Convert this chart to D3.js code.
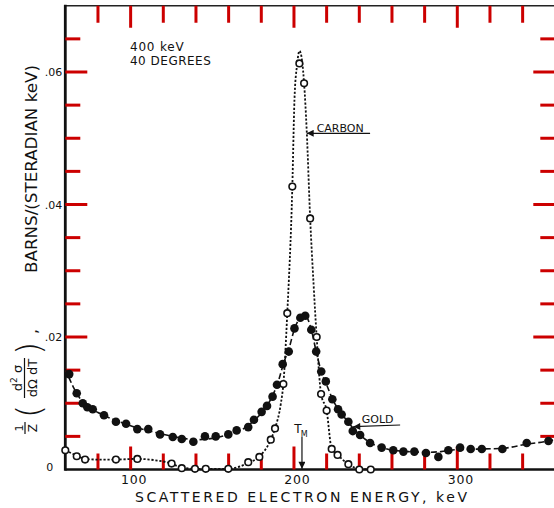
<!DOCTYPE html>
<html>
<head>
<meta charset="utf-8">
<script src="https://cdn.jsdelivr.net/npm/d3@7"></script>
<style>
    html, body { margin: 0; padding: 0; background: #fff; }
    svg text { font-family: "DejaVu Sans", sans-serif; fill: #111; }
    .axis text { font-size: 11px; }
    .axis .domain { display: none; }
</style>
</head>
<body>
<div id="container"></div>
<script>
// gold: filled points
var goldEnergy = [62.4, 67.0, 70.7, 73.5, 76.8, 83.7, 91.0, 97.2, 104.1, 110.8, 118.0, 125.8, 131.3, 138.4,
    145.5, 152.1, 159.8, 164.9, 172.0, 175.5, 180.2, 183.5, 186.9, 189.6, 193.1, 196.8, 200.3, 203.9,
    206.9, 210.6, 213.6, 216.7, 219.5, 223.5, 227.0, 229.2, 233.3, 236.0, 240.5, 246.6, 253.7, 260.8,
    267.0, 273.7, 280.8, 288.4, 294.5, 301.7, 308.2, 315.0, 327.6, 342.5, 355.8];
var goldValue = [.0144, .0115, .0100, .0094, .0091, .0082, .0072, .0069, .0061, .0061, .0053, .0049, .0046, .0042,
    .0050, .0050, .0053, .0059, .0064, .0075, .0087, .0096, .0110, .0128, .0159, .0178, .0213, .0229,
    .0232, .0211, .0178, .0148, .0133, .0106, .0091, .0083, .0072, .0058, .0052, .0040, .0033, .0029,
    .0027, .0027, .0025, .0019, .0029, .0033, .0031, .0031, .0031, .0040, .0043];

// carbon: open points
var carbonEnergy = [60.0, 67.0, 72.1, 91.0, 104.1, 125.1, 131.3, 139.4, 146.0, 159.8, 172.0, 178.8, 185.8, 188.4,
    193.5, 195.9, 199.0, 203.3, 206.2, 209.9, 213.9, 216.6, 220.0, 223.1, 226.7, 233.3, 240.0, 247.0];
var carbonValue = [.0029, .0020, .0015, .0015, .0016, .0009, .0002, .0001, .0001, .0001, .0011, .0019, .0045, .0062,
    .0129, .0236, .0427, .0613, .0583, .0379, .0200, .0114, .0089, .0031, .0022, .0008, .0000, .0000];

// hand drawn curves
var goldLineEnergy = [60, 65, 70, 75, 80, 90, 100, 110, 120, 130, 140, 150, 160, 170, 176, 181, 186, 190, 194, 197,
    200.3, 204, 207, 210.6, 213.6, 216.7, 220, 224, 228, 233, 237, 241, 247, 254, 261, 270, 280, 290, 300,
    315, 328, 342, 356, 360];
var goldLineValue = [.0152, .0124, .0104, .0093, .0086, .0075, .0066, .0059, .0053, .0048, .0045, .0047, .0053, .0063,
    .0075, .0088, .0107, .0130, .0163, .0183, .0212, .0229, .0232, .0211, .0178, .0148, .0128, .0104, .0088,
    .0072, .0060, .0051, .0040, .0033, .0029, .0027, .0026, .0027, .0030, .0031, .0032, .0038, .0043, .0045];

var carbonLineEnergy = [60, 67, 72, 80, 91, 104, 115, 125, 131, 140, 160, 172, 179, 185.8, 188.4, 192, 193.5, 195.9,
    199.0, 200.3, 201.9, 203.4, 205.0, 206.2, 207.8, 209.9, 212, 213.9, 216.6, 220, 223.1, 226.7, 233.3, 240, 247];
var carbonLineValue = [.0029, .0021, .0016, .0015, .0015, .0016, .0014, .0009, .0003, .0001, .0001, .0010, .0020,
    .0045, .0062, .0100, .0129, .0236, .0427, .0558, .0611, .0632, .0616, .0583, .0512, .0380, .0280, .0200,
    .0114, .0089, .0031, .0022, .0008, .0001, .0000];

var xLabelTicks = [100, 200, 300];
var xMinorTicks = [80, 120, 140, 160, 180, 220, 240, 260, 280, 320, 340];
var yLabelTicks = [0, 0.02, 0.04, 0.06];
var yMinorTicks = [0.005, 0.01, 0.015, 0.025, 0.03, 0.035, 0.045, 0.05, 0.055, 0.065];

var x, y, svg;

var yFmt = function (d) { return d === 0 ? "0" : d3.format(".2f")(d).replace(/^0/, ""); };

function init_vars() {
    x = d3.scaleLinear().domain([60, 360]).range([65.3, 555.3]);
    y = d3.scaleLinear().domain([0, 0.07]).range([469.5, 5.75]);
}

function draw_axes() {
    // left labels
    var gl = svg.append("g").attr("class", "axis")
        .attr("transform", "translate(" + x(60) + ",0)")
        .call(d3.axisLeft(y).tickValues(yLabelTicks).tickSize(0).tickPadding(3).tickFormat(yFmt));
    gl.selectAll(".tick text").filter(function (d) { return d === 0; })
        .attr("x", -12).attr("dy", "0.1em");

    // bottom labels
    svg.append("g").attr("class", "axis")
        .attr("transform", "translate(0," + y(0) + ")")
        .call(d3.axisBottom(x).tickValues(xLabelTicks).tickSize(0).tickPadding(6))
        .selectAll("text").attr("dx", 3).style("font-size", "12.5px").style("letter-spacing", "0.8px");

    // frame
    svg.append("line").attr("x1", x(60)).attr("x2", x(360)).attr("y1", y(0.07)).attr("y2", y(0.07))
        .attr("stroke", "#222").attr("stroke-width", 1.6);
    svg.append("line").attr("x1", x(360)).attr("x2", x(360)).attr("y1", y(0.07)).attr("y2", y(0))
        .attr("stroke", "#222").attr("stroke-width", 1.6);
    svg.append("line").attr("x1", x(60)).attr("x2", x(60)).attr("y1", y(0.07) - 1).attr("y2", y(0) + 1.2)
        .attr("stroke", "#111").attr("stroke-width", 2.8);
    svg.append("line").attr("x1", x(60)).attr("x2", x(360)).attr("y1", y(0)).attr("y2", y(0))
        .attr("stroke", "#111").attr("stroke-width", 2.4);
}

// inward tick marks on all four sides, one polyline each
function draw_ticks() {
    var specs = [
        { vals: yLabelTicks.slice(1), len: 22, side: "left" },
        { vals: yMinorTicks, len: 15, side: "left" },
        { vals: yLabelTicks.slice(1), len: 22, side: "right" },
        { vals: yMinorTicks, len: 15, side: "right" },
        { vals: xLabelTicks, len: 23, side: "bottom" },
        { vals: xMinorTicks, len: 16, side: "bottom" },
        { vals: xLabelTicks, len: 22, side: "top" },
        { vals: xMinorTicks, len: 17, side: "top" }
    ];
    var segs = [];
    specs.forEach(function (s) {
        s.vals.forEach(function (d) {
            if (s.side == "left") segs.push([[x(60), y(d)], [x(60) + s.len, y(d)]]);
            else if (s.side == "right") segs.push([[x(360) - s.len, y(d)], [x(360), y(d)]]);
            else if (s.side == "bottom") segs.push([[x(d), y(0) - s.len], [x(d), y(0)]]);
            else segs.push([[x(d), y(0.07)], [x(d), y(0.07) + s.len]]);
        });
    });
    svg.selectAll("path.tick-mark")
        .data(segs).enter()
        .append("path")
        .attr("class", "tick-mark")
        .attr("d", d3.line())
        .attr("fill", "none")
        .attr("stroke", "#cc0000")
        .attr("stroke-width", 3);
}

function draw_titles() {
    // x title
    svg.append("text")
        .attr("x", 135).attr("y", 502)
        .attr("textLength", 332).attr("lengthAdjust", "spacing")
        .style("font-size", "14px")
        .text("SCATTERED ELECTRON ENERGY, keV");

    // y title, rotated; u runs up the page, v to the right
    var yt = svg.append("g").attr("transform", "translate(37,437) rotate(-90)");
    yt.append("text").attr("x", 9).attr("y", -14.5).attr("text-anchor", "middle")
        .style("font-size", "11px").text("1");
    yt.append("line").attr("x1", 3).attr("x2", 15).attr("y1", -12).attr("y2", -12)
        .attr("stroke", "#111").attr("stroke-width", 1.2);
    yt.append("text").attr("x", 9).attr("y", 0).attr("text-anchor", "middle")
        .style("font-size", "12px").text("Z");
    yt.append("text").attr("x", 19).attr("y", 4).style("font-size", "34px").style("font-weight", "200").text("(");

    var num = yt.append("text").attr("x", 59).attr("y", -15.5).attr("text-anchor", "middle")
        .style("font-size", "13px");
    num.append("tspan").text("d");
    num.append("tspan").attr("dy", -5).style("font-size", "9px").text("2");
    num.append("tspan").attr("dy", 5).text(" σ");
    yt.append("line").attr("x1", 39).attr("x2", 79).attr("y1", -12.5).attr("y2", -12.5)
        .attr("stroke", "#111").attr("stroke-width", 1.2);
    yt.append("text").attr("x", 59).attr("y", 0).attr("text-anchor", "middle")
        .style("font-size", "13px").text("dΩ dT");
    yt.append("text").attr("x", 82).attr("y", 4).style("font-size", "34px").style("font-weight", "200").text(")");
    yt.append("text").attr("x", 103).attr("y", 0).style("font-size", "16px").text(",");
    yt.append("text").attr("x", 164).attr("y", 0)
        .attr("textLength", 208).attr("lengthAdjust", "spacingAndGlyphs")
        .style("font-size", "16px")
        .text("BARNS/(STERADIAN keV)");
}

function draw_notes() {
    svg.append("defs").append("marker")
        .attr("id", "head").attr("viewBox", "0 0 10 10")
        .attr("refX", 10).attr("refY", 5)
        .attr("markerWidth", 9).attr("markerHeight", 7)
        .attr("markerUnits", "userSpaceOnUse")
        .attr("orient", "auto")
        .append("path").attr("d", "M0,0L10,5L0,10z").attr("fill", "#111");

    svg.append("text").attr("x", x(99.6)).attr("y", y(0.0631))
        .style("font-size", "12px").style("letter-spacing", "0.8px").text("400 keV");
    svg.append("text").attr("x", x(99.6)).attr("y", y(0.0610))
        .style("font-size", "12px").style("letter-spacing", "0.5px").text("40 DEGREES");

    // carbon label
    svg.append("text").attr("x", x(213.9)).attr("y", y(0.0510))
        .style("font-size", "11px").text("CARBON");
    svg.append("line").attr("x1", x(246.6)).attr("y1", y(0.05075)).attr("x2", x(207.8)).attr("y2", y(0.05075))
        .attr("stroke", "#111").attr("stroke-width", 1.2).attr("marker-end", "url(#head)");

    // gold label
    svg.append("text").attr("x", x(241.5)).attr("y", y(0.0070))
        .style("font-size", "11px").text("GOLD");
    svg.append("line").attr("x1", x(265)).attr("y1", y(0.00672)).attr("x2", x(236.3)).attr("y2", y(0.00646))
        .attr("stroke", "#111").attr("stroke-width", 1.2).attr("marker-end", "url(#head)");

    // T_M
    var tm = svg.append("text").attr("x", x(200.2)).attr("y", y(0.0055)).style("font-size", "12px");
    tm.append("tspan").text("T");
    tm.append("tspan").attr("dx", -1).attr("dy", 3.5).style("font-size", "8px").text("M");
    svg.append("line").attr("x1", x(204.9)).attr("y1", y(0.0049)).attr("x2", x(204.9)).attr("y2", y(0.0001))
        .attr("stroke", "#111").attr("stroke-width", 1.2).attr("marker-end", "url(#head)");
}

function draw_series() {
    var gold = goldEnergy.map(function (e, i) { return { e: e, v: goldValue[i] }; });
    var carbon = carbonEnergy.map(function (e, i) { return { e: e, v: carbonValue[i] }; });
    var goldLine = goldLineEnergy.map(function (e, i) { return { e: e, v: goldLineValue[i] }; });
    var carbonLine = carbonLineEnergy.map(function (e, i) { return { e: e, v: carbonLineValue[i] }; });

    var line = d3.line()
        .x(function (d) { return x(d.e); })
        .y(function (d) { return y(d.v); })
        .curve(d3.curveMonotoneX);

    svg.append("path").datum(carbonLine)
        .attr("d", line).attr("fill", "none")
        .attr("stroke", "#111").attr("stroke-width", 1.8).attr("stroke-dasharray", "2.2,1.8");

    svg.append("path").datum(goldLine)
        .attr("d", line).attr("fill", "none")
        .attr("stroke", "#111").attr("stroke-width", 1.6).attr("stroke-dasharray", "6,3");

    svg.selectAll("circle.gold")
        .data(gold).enter()
        .append("circle").attr("class", "gold")
        .attr("cx", function (d) { return x(d.e); })
        .attr("cy", function (d) { return y(d.v); })
        .attr("r", 4.3)
        .attr("fill", "#111");

    svg.selectAll("circle.carbon")
        .data(carbon).enter()
        .append("circle").attr("class", "carbon")
        .attr("cx", function (d) { return x(d.e); })
        .attr("cy", function (d) { return y(d.v); })
        .attr("r", 3.3)
        .attr("fill", "#fff")
        .attr("stroke", "#111").attr("stroke-width", 1.6);
}

function draw_graph() {
    init_vars();
    svg = d3.select("div#container")
        .append("svg")
        .attr("width", 554)
        .attr("height", 508);
    svg.append("rect").attr("width", 554).attr("height", 508).attr("fill", "#fff");
    draw_axes();
    draw_ticks();
    draw_series();
    draw_titles();
    draw_notes();
}

draw_graph();
</script>
</body>
</html>
